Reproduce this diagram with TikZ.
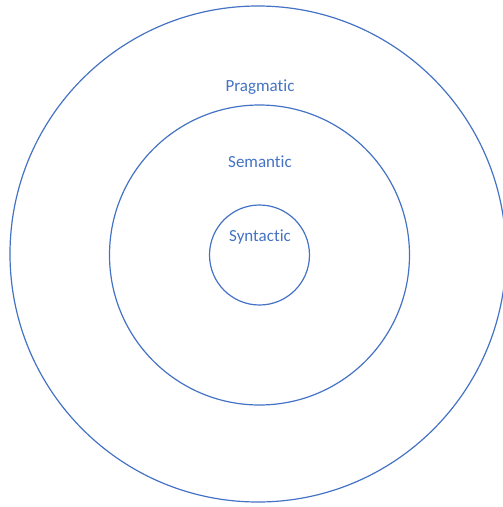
\documentclass[tikz,border=0pt]{standalone}
\usepackage{fontspec}
\setmainfont{Carlito}[Ligatures=NoCommon]
\usetikzlibrary{calc}
\definecolor{ringblue}{HTML}{4472C4}

\begin{document}
\begin{tikzpicture}[x=1pt,y=-1pt,
  ring/.style={draw=ringblue,line width=1.2pt,circle,inner sep=0pt},
  layer/.style={text=ringblue,font=\fontsize{17}{20}\selectfont}]
\useasboundingbox (0,0) rectangle (503,507);
\coordinate (c) at (259.5,255);
\node[ring,minimum size=496pt] (pragmaticring) at (258,254) {};
\node[ring,minimum size=300pt] (semanticring) at (c) {};
\node[ring,minimum size=100pt] (syntacticring) at (c) {};
\node[layer] (pragmatic) at (260,87) {Pragmatic};
\node[layer] (semantic) at (260,162) {Semantic};
\node[layer] (syntactic) at (260,237) {Syntactic};
\end{tikzpicture}
\end{document}
